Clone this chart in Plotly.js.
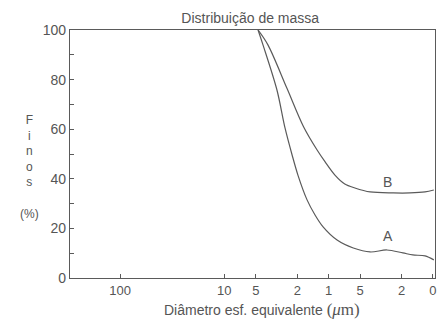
<!DOCTYPE html>
<html>
<head>
<meta charset="utf-8">
<script src="https://cdn.plot.ly/plotly-3.0.1.min.js"></script>
<style>html,body{margin:0;padding:0;background:#fff;}#chart{width:439px;height:323px;}</style>
</head>
<body>
<div id="chart"></div>
<script>
// Curve A (lower)
const diamA = [4.75, 4.26, 3.13, 2.62, 2.24, 1.97, 1.61, 1.35, 1.13, 0.83, 0.58, 0.40, 0.276, 0.194, 0.156, 0.119, 0.098];
const finosA = [100, 94.0, 75.8, 60.5, 49.6, 41.5, 31.5, 25.4, 20.6, 15.3, 12.1, 10.5, 11.3, 10.1, 9.3, 8.9, 7.3];
// Curve B (upper)
const diamB = [4.75, 3.82, 2.51, 1.74, 1.29, 1.08, 0.87, 0.70, 0.56, 0.40, 0.24, 0.166, 0.119, 0.098];
const finosB = [100, 94.0, 76.5, 61.0, 51.6, 46.8, 41.5, 37.9, 36.3, 34.7, 34.3, 34.3, 34.7, 35.5];
// Axis ticks
const xTickVals = [100, 10, 5, 2, 1, 0.5, 0.2, 0.1];
const xTickText = ["100", "10", "5", "2", "1", "5", "2", "0"];
const yTickVals = [0, 20, 40, 60, 80, 100];
const yTickText = ["0", "20", "40", "60", "80", "100"];
// Curve labels
const labelText = ["B", "A"];
const labelX = [0.27, 0.27];
const labelY = [38.7, 17];

const lineColor = '#5a5a5a';
const textColor = '#555';
const font = 'Liberation Sans, Arial, sans-serif';

const traces = [
  {x: diamA, y: finosA, mode: 'lines', line: {color: lineColor, width: 1.2, shape: 'spline', smoothing: 0.9}, hoverinfo: 'skip'},
  {x: diamB, y: finosB, mode: 'lines', line: {color: lineColor, width: 1.2, shape: 'spline', smoothing: 0.9}, hoverinfo: 'skip'}
];

const annotations = labelText.map((t, i) => ({
  x: Math.log10(labelX[i]), y: labelY[i], xref: 'x', yref: 'y', text: t, showarrow: false,
  font: {family: font, size: 14, color: textColor}, xanchor: 'center', yanchor: 'middle'
}));
annotations.push({
  x: -0.11, y: 0.448, xref: 'paper', yref: 'paper', showarrow: false,
  text: 'F<br>i<br>n<br>o<br>s<br><br>(%)', align: 'center',
  font: {family: font, size: 12, color: textColor}, xanchor: 'center', yanchor: 'middle'
});
annotations.push({
  x: 0.525, y: -0.125, xref: 'paper', yref: 'paper', showarrow: false,
  text: "Diâmetro esf. equivalente <span style='font-family:Liberation Serif;font-size:17px'>(<i>μ</i>m)</span>",
  font: {family: font, size: 14, color: textColor}, xanchor: 'center', yanchor: 'middle'
});

const layout = {
  width: 439, height: 323,
  margin: {l: 70, r: 4, t: 30, b: 45},
  paper_bgcolor: '#fff', plot_bgcolor: '#fff',
  showlegend: false,
  title: {text: 'Distribuição de massa', font: {family: font, size: 14, color: textColor}, x: 0.57, xanchor: 'center', y: 0.945, yanchor: 'middle'},
  font: {family: font, color: textColor},
  xaxis: {
    type: 'log', range: [2.48, -1.02],
    tickvals: xTickVals, ticktext: xTickText,
    ticks: 'inside', ticklen: 4, tickcolor: lineColor,
    showline: true, linecolor: lineColor, linewidth: 1.2, mirror: true,
    showgrid: false, zeroline: false,
    tickfont: {family: font, size: 13, color: textColor}
  },
  yaxis: {
    range: [0, 100],
    tickvals: yTickVals, ticktext: yTickText,
    ticks: 'inside', ticklen: 4, tickcolor: lineColor,
    minor: {tickvals: [10, 30, 50, 70, 90], ticks: 'inside', ticklen: 4, tickcolor: lineColor},
    showline: true, linecolor: lineColor, linewidth: 1.2, mirror: true,
    showgrid: false, zeroline: false,
    tickfont: {family: font, size: 14, color: textColor}
  },
  annotations: annotations
};

Plotly.newPlot('chart', traces, layout, {staticPlot: true, displayModeBar: false});
</script>
</body>
</html>
